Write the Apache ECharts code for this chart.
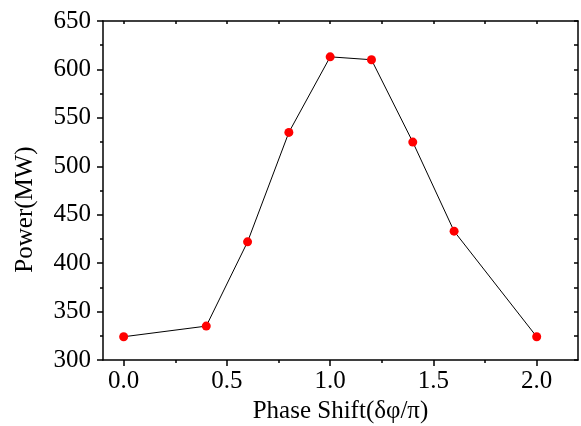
<!DOCTYPE html>
<html><head><meta charset="utf-8">
<script src="https://cdn.jsdelivr.net/npm/echarts@6/dist/echarts.min.js"></script>
<style>html,body{margin:0;padding:0;background:#fff}#c{width:581px;height:426px}</style>
</head><body><div id="c"></div>
<script>
var phaseShift = [0.0, 0.4, 0.6, 0.8, 1.0, 1.2, 1.4, 1.6, 2.0];
var powerMW = [324, 335, 422, 535, 613, 610, 525, 433, 324];
var xMajorTicks = [0, 0.5, 1.0, 1.5, 2.0];
var xMinorTicks = [0.25, 0.75, 1.25, 1.75];
var xTopTicks = [0, 0.25, 0.5, 0.75, 1.0, 1.25, 1.5, 1.75, 2.0];
var xTitle = 'Phase Shift(δφ/π)';
var yTitle = 'Power(MW)';

var font = 'Liberation Serif';
var chart = echarts.init(document.getElementById('c'));
var data = phaseShift.map(function (x, i) { return [x, powerMW[i]]; });
var lineStyleAxis = { color: '#000', width: 1.5 };
chart.setOption({
  animation: false,
  grid: { left: 103, right: 3, top: 21, bottom: 66, containLabel: false, outerBoundsMode: 'none' },
  xAxis: [
    { type: 'value', position: 'bottom', min: -0.1, max: 2.2,
      axisLine: { show: true, onZero: false, lineStyle: lineStyleAxis },
      axisTick: { show: true, inside: false, length: 6, customValues: xMajorTicks, lineStyle: { color: '#000', width: 1.5 } },
      axisLabel: { show: true, customValues: xMajorTicks, color: '#000', fontFamily: font, fontSize: 25, margin: 9,
        formatter: function (v) { return v.toFixed(1); } },
      splitLine: { show: false },
      name: xTitle, nameLocation: 'middle', nameGap: 38,
      nameTextStyle: { color: '#000', fontFamily: font, fontSize: 25 } },
    { type: 'value', position: 'bottom', min: -0.1, max: 2.2,
      axisLine: { show: false, onZero: false },
      axisTick: { show: true, inside: false, length: 3, customValues: xMinorTicks, lineStyle: { color: '#000', width: 1.5 } },
      axisLabel: { show: false }, splitLine: { show: false } },
    { type: 'value', position: 'top', min: -0.1, max: 2.2,
      axisLine: { show: true, onZero: false, lineStyle: lineStyleAxis },
      axisTick: { show: true, inside: true, length: 3, customValues: xTopTicks, lineStyle: { color: '#000', width: 1.5 } },
      axisLabel: { show: false }, splitLine: { show: false } }
  ],
  yAxis: [
    { type: 'value', position: 'left', min: 300, max: 650, interval: 50,
      axisLine: { show: true, onZero: false, lineStyle: lineStyleAxis },
      axisTick: { show: true, inside: false, length: 6, lineStyle: { color: '#000', width: 1.5 } },
      minorTick: { show: true, splitNumber: 2, length: 3, lineStyle: { color: '#000', width: 1.5 } },
      axisLabel: { color: '#000', fontFamily: font, fontSize: 25, margin: 12 },
      splitLine: { show: false },
      name: yTitle, nameLocation: 'middle', nameGap: 65,
      nameTextStyle: { color: '#000', fontFamily: font, fontSize: 25, padding: [0, 38, 0, 0] } },
    { type: 'value', position: 'right', min: 300, max: 650, interval: 25,
      axisLine: { show: true, onZero: false, lineStyle: lineStyleAxis },
      axisTick: { show: true, inside: true, length: 4, lineStyle: { color: '#000', width: 1.5 } },
      axisLabel: { show: false }, splitLine: { show: false } }
  ],
  series: [{
    type: 'line', xAxisIndex: 0, yAxisIndex: 0, data: data,
    symbol: 'circle', symbolSize: 9,
    lineStyle: { color: '#000', width: 1 },
    itemStyle: { color: '#ff0000', borderWidth: 0 }
  }]
});
</script></body></html>
